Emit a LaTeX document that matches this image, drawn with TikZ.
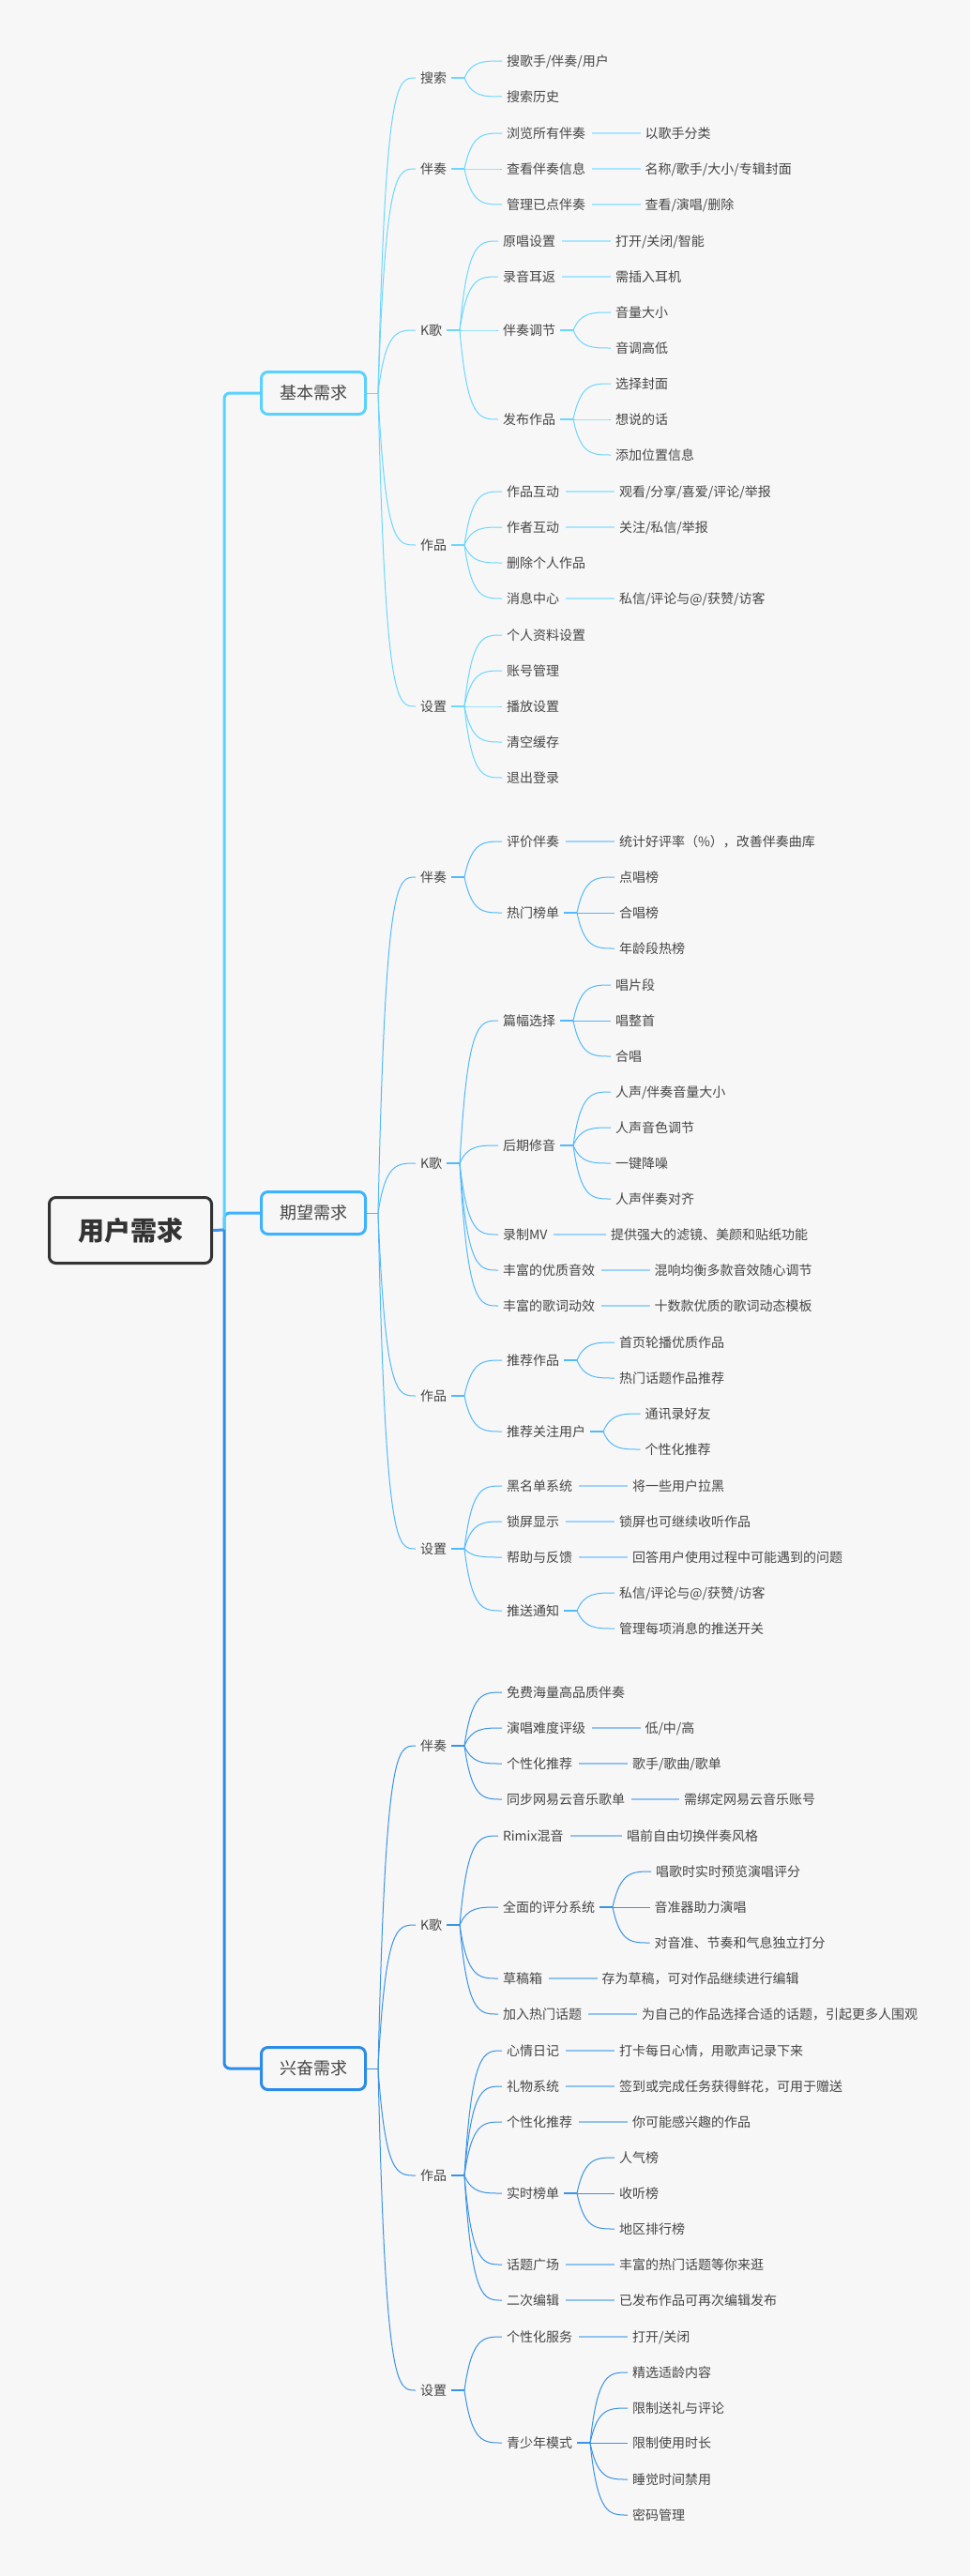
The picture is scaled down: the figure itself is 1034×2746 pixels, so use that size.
\documentclass[tikz,border=0pt]{standalone}
\usepackage{fontspec}
\usetikzlibrary{calc}
\newfontfamily\cjk{Noto Sans CJK SC}
\definecolor{bg}{HTML}{F7F7F7}
\definecolor{txtc}{HTML}{454545}
\definecolor{rootc}{HTML}{333333}
\definecolor{rootl}{HTML}{3A96EE}
\definecolor{cA}{HTML}{5AD2FF}
\definecolor{lA}{HTML}{6CD6FF}
\definecolor{sA}{HTML}{A8E6FF}
\definecolor{cB}{HTML}{3DB2FF}
\definecolor{lB}{HTML}{52B9FC}
\definecolor{sB}{HTML}{9CD3FF}
\definecolor{cC}{HTML}{2B8CE8}
\definecolor{lC}{HTML}{3A93E6}
\definecolor{sC}{HTML}{90C2F2}
\tikzset{
  txt/.style={anchor=west, inner sep=0pt, outer xsep=5pt, text height=10.9pt, text depth=0.2pt,
    font=\cjk\fontsize{14}{16}\selectfont, text=txtc},
  lone/.style={inner sep=0pt, minimum width=111pt, minimum height=45pt, line width=3pt,
    rounded corners=7pt, fill=bg, font=\cjk\fontsize{18}{20}\selectfont, text=txtc},
  rootbox/.style={inner sep=0pt, minimum width=173pt, minimum height=70pt, line width=3pt,
    rounded corners=7pt, draw=rootc, fill=bg, font=\cjk\bfseries\fontsize{28}{30}\selectfont, text=rootc},
  trunk/.style={line width=3pt, rounded corners=6pt},
  cvA/.style={draw=lA, line width=1pt}, stA/.style={draw=lA, line width=2.5pt}, snA/.style={draw=sA, line width=2pt},
  cvB/.style={draw=lB, line width=1pt}, stB/.style={draw=lB, line width=2.5pt}, snB/.style={draw=sB, line width=2pt},
  cvC/.style={draw=lC, line width=1pt}, stC/.style={draw=lC, line width=2.5pt}, snC/.style={draw=sC, line width=2pt},
}
\newcommand\tnode[4]{\node[txt] (#1) at ({#2-5},#3) {#4};}
\newcommand\junc[2]{\coordinate (#2j) at ([xshift=14pt]#2.east); \draw[#1] (#2.east) -- (#2j);}
\newcommand\curvs[3]{\foreach \nn in {#3}{\draw[#1] (#2) .. controls ($(#2 |- \nn.west)!0.2!(\nn.west)$) and ($(#2 |- \nn.west)!0.5!(\nn.west)$) .. (\nn.west);}}
\newcommand\strl[3]{\draw[#1] ([xshift=2pt]#2.east) -- (#3.west);}
\begin{document}
\begin{tikzpicture}[x=1pt,y=-1pt]
\fill[bg] (0,0) rectangle (1034,2746);
\useasboundingbox (0,0) rectangle (1034,2746);

% ---------- root and trunk ----------
\node[rootbox] (R) at (139,1311.5) {用户需求};
\coordinate (T) at (239,1311);
\node[lone,draw=cA] (A) at (334,419) {基本需求};
\node[lone,draw=cB] (B) at (334,1293) {期望需求};
\node[lone,draw=cC] (C) at (334,2205) {兴奋需求};
\draw[trunk,cB] (T) |- (B.west);
\draw[trunk,cA] (T) |- (A.west);
\draw[trunk,cC] (T) |- (C.west);
\draw[line width=3pt,rootl] (R.east) -- (T);

% ================= 基本需求 =================
\coordinate (JA) at (403,419);
\draw[cvA] (A.east) -- (JA);
\tnode{a1}{448}{83}{搜索}
\tnode{a2}{448}{180}{伴奏}
\tnode{a3}{448}{352}{K歌}
\tnode{a4}{448}{581}{作品}
\tnode{a5}{448}{753}{设置}
\curvs{cvA}{JA}{a1,a2,a3,a4,a5}
% 搜索
\junc{stA}{a1}
\tnode{a11}{540}{65}{搜歌手/伴奏/用户}
\tnode{a12}{540}{103}{搜索历史}
\curvs{cvA}{a1j}{a11,a12}
% 伴奏
\junc{stA}{a2}
\tnode{a21}{540}{142}{浏览所有伴奏}
\tnode{a22}{540}{180}{查看伴奏信息}
\tnode{a23}{540}{218}{管理已点伴奏}
\curvs{cvA}{a2j}{a21,a22,a23}
\tnode{a211}{687.5}{142}{以歌手分类}
\tnode{a221}{687.5}{180}{名称/歌手/大小/专辑封面}
\tnode{a231}{687.5}{218}{查看/演唱/删除}
\strl{snA}{a21}{a211}
\strl{snA}{a22}{a221}
\strl{snA}{a23}{a231}
% K歌
\junc{stA}{a3}
\tnode{a31}{536}{257}{原唱设置}
\tnode{a32}{536}{295}{录音耳返}
\tnode{a33}{536}{352}{伴奏调节}
\tnode{a34}{536}{447}{发布作品}
\curvs{cvA}{a3j}{a31,a32,a33,a34}
\tnode{a311}{656}{257}{打开/关闭/智能}
\tnode{a321}{656}{295}{需插入耳机}
\strl{snA}{a31}{a311}
\strl{snA}{a32}{a321}
\junc{stA}{a33}
\tnode{a331}{656}{333}{音量大小}
\tnode{a332}{656}{371}{音调高低}
\curvs{cvA}{a33j}{a331,a332}
\junc{stA}{a34}
\tnode{a341}{656}{409}{选择封面}
\tnode{a342}{656}{447}{想说的话}
\tnode{a343}{656}{485}{添加位置信息}
\curvs{cvA}{a34j}{a341,a342,a343}
% 作品
\junc{stA}{a4}
\tnode{a41}{540}{524}{作品互动}
\tnode{a42}{540}{562}{作者互动}
\tnode{a43}{540}{600}{删除个人作品}
\tnode{a44}{540}{638}{消息中心}
\curvs{cvA}{a4j}{a41,a42,a43,a44}
\tnode{a411}{660}{524}{观看/分享/喜爱/评论/举报}
\tnode{a421}{660}{562}{关注/私信/举报}
\tnode{a441}{660}{638}{私信/评论与@/获赞/访客}
\strl{snA}{a41}{a411}
\strl{snA}{a42}{a421}
\strl{snA}{a44}{a441}
% 设置
\junc{stA}{a5}
\tnode{a51}{540}{677}{个人资料设置}
\tnode{a52}{540}{715}{账号管理}
\tnode{a53}{540}{753}{播放设置}
\tnode{a54}{540}{791}{清空缓存}
\tnode{a55}{540}{829}{退出登录}
\curvs{cvA}{a5j}{a51,a52,a53,a54,a55}

% ================= 期望需求 =================
\coordinate (JB) at (403,1293);
\draw[cvB] (B.east) -- (JB);
\tnode{b1}{448}{935}{伴奏}
\tnode{b2}{448}{1240}{K歌}
\tnode{b3}{448}{1488}{作品}
\tnode{b4}{448}{1651}{设置}
\curvs{cvB}{JB}{b1,b2,b3,b4}
% 伴奏
\junc{stB}{b1}
\tnode{b11}{540}{897}{评价伴奏}
\tnode{b12}{540}{973}{热门榜单}
\curvs{cvB}{b1j}{b11,b12}
\tnode{b111}{660}{897}{统计好评率（\%），改善伴奏曲库}
\strl{snB}{b11}{b111}
\junc{stB}{b12}
\tnode{b121}{660}{935}{点唱榜}
\tnode{b122}{660}{973}{合唱榜}
\tnode{b123}{660}{1011}{年龄段热榜}
\curvs{cvB}{b12j}{b121,b122,b123}
% K歌
\junc{stB}{b2}
\tnode{b21}{536}{1088}{篇幅选择}
\tnode{b22}{536}{1221}{后期修音}
\tnode{b23}{536}{1316}{录制MV}
\tnode{b24}{536}{1354}{丰富的优质音效}
\tnode{b25}{536}{1392}{丰富的歌词动效}
\curvs{cvB}{b2j}{b21,b22,b23,b24,b25}
\junc{stB}{b21}
\tnode{b211}{656}{1050}{唱片段}
\tnode{b212}{656}{1088}{唱整首}
\tnode{b213}{656}{1126}{合唱}
\curvs{cvB}{b21j}{b211,b212,b213}
\junc{stB}{b22}
\tnode{b221}{656}{1164}{人声/伴奏音量大小}
\tnode{b222}{656}{1202}{人声音色调节}
\tnode{b223}{656}{1240}{一键降噪}
\tnode{b224}{656}{1278}{人声伴奏对齐}
\curvs{cvB}{b22j}{b221,b222,b223,b224}
\tnode{b231}{651}{1316}{提供强大的滤镜、美颜和贴纸功能}
\tnode{b241}{697.5}{1354}{混响均衡多款音效随心调节}
\tnode{b251}{697.5}{1392}{十数款优质的歌词动态模板}
\strl{snB}{b23}{b231}
\strl{snB}{b24}{b241}
\strl{snB}{b25}{b251}
% 作品
\junc{stB}{b3}
\tnode{b31}{540}{1450}{推荐作品}
\tnode{b32}{540}{1526}{推荐关注用户}
\curvs{cvB}{b3j}{b31,b32}
\junc{stB}{b31}
\tnode{b311}{660}{1431}{首页轮播优质作品}
\tnode{b312}{660}{1469}{热门话题作品推荐}
\curvs{cvB}{b31j}{b311,b312}
\junc{stB}{b32}
\tnode{b321}{687.5}{1507}{通讯录好友}
\tnode{b322}{687.5}{1545}{个性化推荐}
\curvs{cvB}{b32j}{b321,b322}
% 设置
\junc{stB}{b4}
\tnode{b41}{540}{1584}{黑名单系统}
\tnode{b42}{540}{1622}{锁屏显示}
\tnode{b43}{540}{1660}{帮助与反馈}
\tnode{b44}{540}{1717}{推送通知}
\curvs{cvB}{b4j}{b41,b42,b43,b44}
\tnode{b411}{674}{1584}{将一些用户拉黑}
\tnode{b421}{660}{1622}{锁屏也可继续收听作品}
\tnode{b431}{674}{1660}{回答用户使用过程中可能遇到的问题}
\strl{snB}{b41}{b411}
\strl{snB}{b42}{b421}
\strl{snB}{b43}{b431}
\junc{stB}{b44}
\tnode{b441}{660}{1698}{私信/评论与@/获赞/访客}
\tnode{b442}{660}{1736}{管理每项消息的推送开关}
\curvs{cvB}{b44j}{b441,b442}

% ================= 兴奋需求 =================
\coordinate (JC) at (403,2205);
\draw[cvC] (C.east) -- (JC);
\tnode{c1}{448}{1861}{伴奏}
\tnode{c2}{448}{2052}{K歌}
\tnode{c3}{448}{2319}{作品}
\tnode{c4}{448}{2548}{设置}
\curvs{cvC}{JC}{c1,c2,c3,c4}
% 伴奏
\junc{stC}{c1}
\tnode{c11}{540}{1804}{免费海量高品质伴奏}
\tnode{c12}{540}{1842}{演唱难度评级}
\tnode{c13}{540}{1880}{个性化推荐}
\tnode{c14}{540}{1918}{同步网易云音乐歌单}
\curvs{cvC}{c1j}{c11,c12,c13,c14}
\tnode{c121}{687.5}{1842}{低/中/高}
\tnode{c131}{674}{1880}{歌手/歌曲/歌单}
\tnode{c141}{729}{1918}{需绑定网易云音乐账号}
\strl{snC}{c12}{c121}
\strl{snC}{c13}{c131}
\strl{snC}{c14}{c141}
% K歌
\junc{stC}{c2}
\tnode{c21}{536}{1957}{Rimix混音}
\tnode{c22}{536}{2033}{全面的评分系统}
\tnode{c23}{536}{2109}{草稿箱}
\tnode{c24}{536}{2147}{加入热门话题}
\curvs{cvC}{c2j}{c21,c22,c23,c24}
\tnode{c211}{668}{1957}{唱前自由切换伴奏风格}
\strl{snC}{c21}{c211}
\junc{stC}{c22}
\tnode{c221}{699}{1995}{唱歌时实时预览演唱评分}
\tnode{c222}{697.5}{2033}{音准器助力演唱}
\tnode{c223}{697.5}{2071}{对音准、节奏和气息独立打分}
\curvs{cvC}{c22j}{c221,c222,c223}
\tnode{c231}{641.7}{2109}{存为草稿，可对作品继续进行编辑}
\tnode{c241}{684}{2147}{为自己的作品选择合适的话题，引起更多人围观}
\strl{snC}{c23}{c231}
\strl{snC}{c24}{c241}
% 作品
\junc{stC}{c3}
\tnode{c31}{540}{2186}{心情日记}
\tnode{c32}{540}{2224}{礼物系统}
\tnode{c33}{540}{2262}{个性化推荐}
\tnode{c34}{540}{2338}{实时榜单}
\tnode{c35}{540}{2414}{话题广场}
\tnode{c36}{540}{2452}{二次编辑}
\curvs{cvC}{c3j}{c31,c32,c33,c34,c35,c36}
\tnode{c311}{660}{2186}{打卡每日心情，用歌声记录下来}
\tnode{c321}{660}{2224}{签到或完成任务获得鲜花，可用于赠送}
\tnode{c331}{674}{2262}{你可能感兴趣的作品}
\strl{snC}{c31}{c311}
\strl{snC}{c32}{c321}
\strl{snC}{c33}{c331}
\junc{stC}{c34}
\tnode{c341}{660}{2300}{人气榜}
\tnode{c342}{660}{2338}{收听榜}
\tnode{c343}{660}{2376}{地区排行榜}
\curvs{cvC}{c34j}{c341,c342,c343}
\tnode{c351}{660}{2414}{丰富的热门话题等你来逛}
\tnode{c361}{660}{2452}{已发布作品可再次编辑发布}
\strl{snC}{c35}{c351}
\strl{snC}{c36}{c361}
% 设置
\junc{stC}{c4}
\tnode{c41}{540}{2491}{个性化服务}
\tnode{c42}{540}{2604}{青少年模式}
\curvs{cvC}{c4j}{c41,c42}
\tnode{c411}{674}{2491}{打开/关闭}
\strl{snC}{c41}{c411}
\junc{stC}{c42}
\tnode{c421}{674}{2529}{精选适龄内容}
\tnode{c422}{674}{2567}{限制送礼与评论}
\tnode{c423}{674}{2604}{限制使用时长}
\tnode{c424}{674}{2643}{睡觉时间禁用}
\tnode{c425}{674}{2681}{密码管理}
\curvs{cvC}{c42j}{c421,c422,c423,c424,c425}
\end{tikzpicture}
\end{document}
